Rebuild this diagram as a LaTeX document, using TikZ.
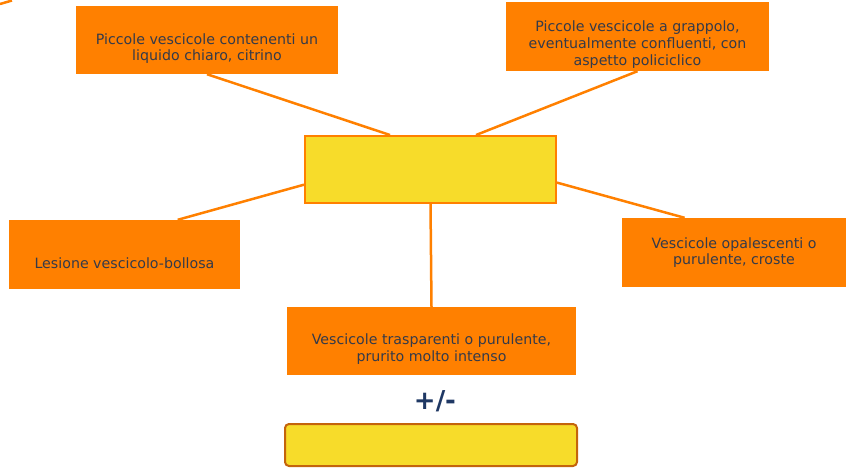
\documentclass[tikz,border=0pt]{standalone}
\usepackage{fontspec}
\setmainfont{DejaVu Sans}
\usetikzlibrary{calc}
\definecolor{boxorange}{RGB}{255,128,0}
\definecolor{hubyellow}{RGB}{247,220,42}
\definecolor{rimbrown}{RGB}{196,100,12}
\definecolor{inkslate}{RGB}{52,58,74}
\definecolor{inknavy}{RGB}{31,56,100}
\tikzset{
LINK/.style ={draw=boxorange,line cap=butt,line width=2.5pt},
BOX/.style ={draw=none,fill=boxorange,inner sep=0pt},
HUB/.style ={draw=boxorange,fill=hubyellow,line width=2pt,inner sep=0pt},
TXT/.style ={text=inkslate,align=center,font=\fontsize{14.2}{16.8}\selectfont},
}
\begin{document}
\begin{tikzpicture}[x=1pt,y=-1pt] %mappa vescicole
	\useasboundingbox (0,0) rectangle (854,467);
	\draw[LINK] (0,4) -- (12,0.5);
	% riquadri
	\node[BOX,minimum width=262pt,minimum height=68pt] (boxA) at (207,40) {};
	\node[BOX,minimum width=263pt,minimum height=69pt] (boxB) at (637.5,36.5) {};
	\node[BOX,minimum width=231pt,minimum height=69pt] (boxC) at (124.5,254.5) {};
	\node[BOX,minimum width=224pt,minimum height=69pt] (boxD) at (734,252.5) {};
	\node[BOX,minimum width=289pt,minimum height=68pt] (boxE) at (431.5,341) {};
	\node[HUB,minimum width=251pt,minimum height=67pt] (hub) at (430.5,169.5) {};
	\node[HUB,draw=rimbrown,rounded corners=4pt,minimum width=292pt,minimum height=42pt] (foot) at (431,445) {};
	% testi
	\node[TXT] (txtA) at ($(boxA.center)+(0,8.5)$) {Piccole vescicole contenenti un\\liquido chiaro, citrino};
	\node[TXT] (txtB) at ($(boxB.center)+(0,8)$) {Piccole vescicole a grappolo,\\eventualmente confluenti, con\\aspetto policiclico};
	\node[TXT] (txtC) at ($(boxC.center)+(0,8.5)$) {Lesione vescicolo-bollosa};
	\node[TXT] (txtD) at (boxD.center) {Vescicole opalescenti o\\purulente, croste};
	\node[TXT] (txtE) at ($(boxE.center)+(0,8)$) {Vescicole trasparenti o purulente,\\prurito molto intenso};
	\node[text=inknavy,font=\fontsize{26}{30}\selectfont\bfseries] (pm) at (435,401) {+/-};
	% collegamenti
	\path[LINK] (boxA.south) -- ($(hub.north west)!0.34!(hub.north east)$);
	\path[LINK] (boxB.south) -- ($(hub.north west)!0.68!(hub.north east)$);
	\path[LINK] ($(boxC.north west)!0.73!(boxC.north east)$) -- ($(hub.north west)!0.72!(hub.south west)$);
	\path[LINK] ($(boxD.north west)!0.28!(boxD.north east)$) -- ($(hub.north east)!0.69!(hub.south east)$);
	\path[LINK] (hub.south) -- (boxE.north);
\end{tikzpicture}
\end{document}
